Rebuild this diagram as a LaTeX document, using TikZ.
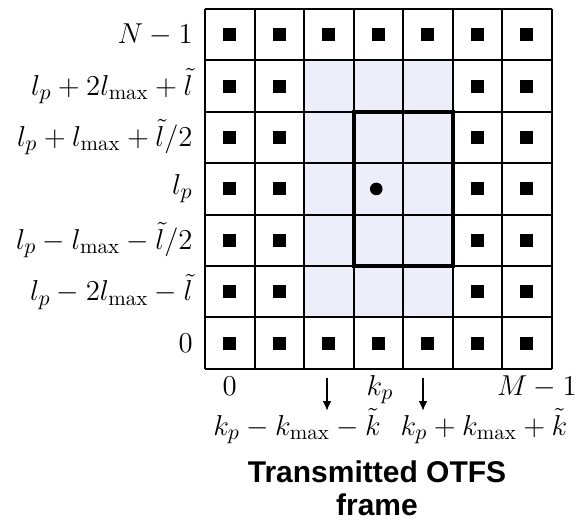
\documentclass[tikz,border=0pt]{standalone}
\usepackage{fontspec}
\usepackage{tikz}
\usetikzlibrary{arrows.meta, positioning, calc}
\newfontfamily\captionfont{Liberation Sans}
\definecolor{guardshade}{RGB}{236, 238, 250}

\begin{document}
\begin{tikzpicture}[x=0.5pt, y=-0.5pt,
    lbl/.style={font=\fontsize{15}{18}\selectfont, inner sep=0pt},
    caption/.style={font=\captionfont\bfseries\fontsize{15}{18}\selectfont, inner sep=0pt},
    symbolbox/.style={fill=black},
    gridline/.style={draw=black, line width=1pt},
    ]
    \useasboundingbox (0,0) rectangle (581,524);
    % grid geometry (px)
    \def\gx{205} \def\gy{9} \def\cw{49.5} \def\ch{51.4}

    % guard region round the pilot
    \fill[guardshade] ({\gx+2*\cw}, {\gy+\ch}) rectangle ({\gx+5*\cw}, {\gy+6*\ch});

    % data symbols
    \foreach \c in {0,1,5,6} \foreach \r in {0,...,6}
        \fill[symbolbox] ({\gx+(\c+0.5)*\cw}, {\gy+(\r+0.5)*\ch}) +(-6.5,-6.5) rectangle +(6.5,6.5);
    \foreach \c in {2,3,4} \foreach \r in {0,6}
        \fill[symbolbox] ({\gx+(\c+0.5)*\cw}, {\gy+(\r+0.5)*\ch}) +(-6.5,-6.5) rectangle +(6.5,6.5);

    % grid
    \foreach \i in {0,...,7} {
        \draw[gridline] ({\gx+\i*\cw}, \gy) -- ({\gx+\i*\cw}, {\gy+7*\ch});
        \draw[gridline] (\gx, {\gy+\i*\ch}) -- ({\gx+7*\cw}, {\gy+\i*\ch});
    }

    % pilot and its window
    \draw[line width=2pt] ({\gx+3*\cw}, {\gy+2*\ch}) rectangle ({\gx+5*\cw}, {\gy+5*\ch});
    \fill ({\gx+3.5*\cw-2}, {\gy+3.5*\ch}) circle[radius=6.3];

    % delay axis
    \node[lbl, anchor=east] (rowtop) at (193, {\gy+0.5*\ch}) {$N-1$};
    \node[lbl, anchor=east] (rowhi) at (193, {\gy+1.5*\ch}) {$l_p+2l_{\max}+\tilde{l}$};
    \node[lbl, anchor=east] (rowup) at (193, {\gy+2.5*\ch}) {$l_p+l_{\max}+\tilde{l}/2$};
    \node[lbl, anchor=east] (rowpilot) at (193, {\gy+3.5*\ch}) {$l_p$};
    \node[lbl, anchor=east] (rowdown) at (193, {\gy+4.5*\ch}) {$l_p-l_{\max}-\tilde{l}/2$};
    \node[lbl, anchor=east] (rowlo) at (193, {\gy+5.5*\ch}) {$l_p-2l_{\max}-\tilde{l}$};
    \node[lbl, anchor=east] (rowzero) at (193, {\gy+6.5*\ch}) {$0$};

    % Doppler axis
    \node[lbl, anchor=base] (colzero) at ({\gx+0.5*\cw}, 395) {$0$};
    \node[lbl, anchor=base] (colpilot) at (380, 395) {$k_p$};
    \node[lbl, anchor=base east] (colend) at (577, 395) {$M-1$};
    \node[lbl, anchor=base] (colleft) at (297, 435) {$k_p-k_{\max}-\tilde{k}$};
    \node[lbl, anchor=base] (colright) at (484, 435) {$k_p+k_{\max}+\tilde{k}$};
    \coordinate (lefttail) at (327, 378);
    \coordinate (lefttip) at (327, 411);
    \coordinate (righttail) at (423, 378);
    \coordinate (righttip) at (423, 411);
    \draw[line width=1pt, -{Latex[length=5pt, width=4.5pt]}] (lefttail) -- (lefttip);
    \draw[line width=1pt, -{Latex[length=5pt, width=4.5pt]}] (righttail) -- (righttip);

    % caption
    \node[caption, anchor=base] (captop) at (377, 482) {Transmitted OTFS};
    \node[caption, anchor=base] (capbot) at (377, 515) {frame};
\end{tikzpicture}
\end{document}
